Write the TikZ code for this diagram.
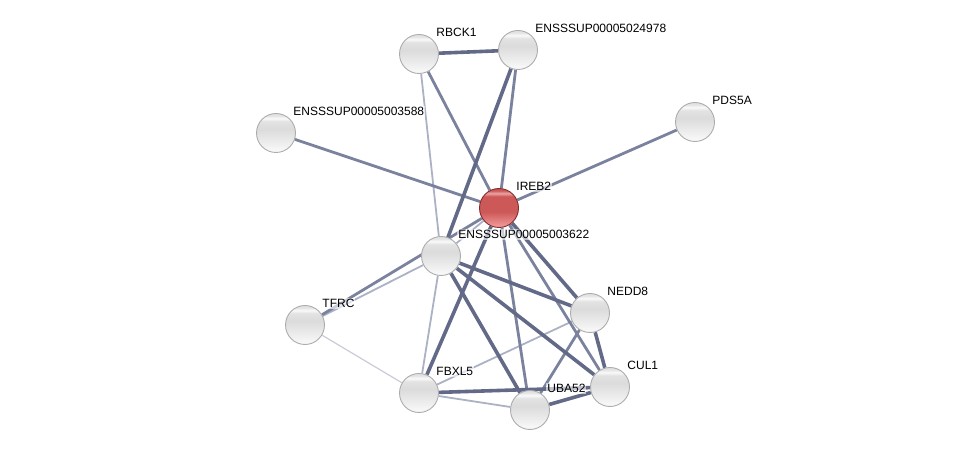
\documentclass[tikz,border=0pt]{standalone}
\usepackage{fontspec}
\setmainfont{Liberation Sans}
\usetikzlibrary{backgrounds}
\definecolor{strongc}{RGB}{98,106,136}
\definecolor{mediumc}{RGB}{122,130,158}
\definecolor{weakc}{RGB}{172,178,198}
\definecolor{faintc}{RGB}{200,204,214}
\definecolor{redlo}{RGB}{242,155,155}
\definecolor{redmid}{RGB}{205,88,88}
\definecolor{redhi}{RGB}{236,170,170}
\definecolor{redtop}{RGB}{165,55,55}
\pgfdeclareverticalshading{greyball}{100bp}{color(0bp)=(gray!4); color(26bp)=(gray!4); color(40bp)=(gray!16); color(55bp)=(gray!28); color(65bp)=(gray!22); color(69bp)=(gray!3); color(72bp)=(gray!22); color(100bp)=(gray!30)}
\pgfdeclareverticalshading{redball}{100bp}{color(0bp)=(redlo); color(26bp)=(redlo); color(45bp)=(redmid); color(65bp)=(redmid); color(69bp)=(redhi); color(72bp)=(redmid); color(100bp)=(redtop)}

\begin{document}
\begin{tikzpicture}[x=1pt, y=-1pt, label distance=3pt,
	main/.style = {circle, draw=gray!65, line width=0.9pt, minimum size=39pt, inner sep=0pt, shading=greyball, label={[lbl]45:#1}},
	query/.style = {main=#1, shading=redball, draw=redtop!80!black},
	lbl/.style = {font=\fontsize{12}{13}\selectfont, inner sep=1pt, fill=white, fill opacity=0.6, text opacity=1},
	strong/.style = {line width=3.6pt, strongc},
	medium/.style = {line width=2.8pt, mediumc},
	weak/.style = {line width=1.8pt, weakc},
	faint/.style = {line width=1.2pt, faintc}]
	\useasboundingbox (0,0) rectangle (975,454);
	\node[main=RBCK1] (rbck1) at (419,54) {};
	\node[main=ENSSSUP00005024978] (e24978) at (518,50) {};
	\node[main=ENSSSUP00005003588] (e3588) at (276,133) {};
	\node[main=PDS5A] (pds5a) at (695,122) {};
	\node[query=IREB2] (ireb2) at (499,208) {};
	\node[main=ENSSSUP00005003622] (e3622) at (441,256) {};
	\node[main=TFRC] (tfrc) at (305,325) {};
	\node[main=NEDD8] (nedd8) at (590,313) {};
	\node[main=CUL1] (cul1) at (610,387) {};
	\node[main=FBXL5] (fbxl5) at (419,393) {};
	\node[main=UBA52] (uba52) at (530,410) {};
	
	\begin{scope}[on background layer]
	\draw[faint] (tfrc) -- (fbxl5);
	\draw[weak] (rbck1) -- (e3622);
	\draw[weak] (e3622) -- (ireb2);
	\draw[weak] (tfrc) -- (e3622);
	\draw[weak] (e3622) -- (fbxl5);
	\draw[weak] (nedd8) -- (fbxl5);
	\draw[weak] (fbxl5) -- (uba52);
	\draw[medium] (rbck1) -- (ireb2);
	\draw[medium] (e24978) -- (ireb2);
	\draw[medium] (e3588) -- (ireb2);
	\draw[medium] (pds5a) -- (ireb2);
	\draw[medium] (tfrc) -- (ireb2);
	\draw[medium] (ireb2) -- (uba52);
	\draw[medium] (ireb2) -- (cul1);
	\draw[medium] (nedd8) -- (uba52);
	\draw[strong] (rbck1) -- (e24978);
	\draw[strong] (e24978) -- (e3622);
	\draw[strong] (ireb2) -- (fbxl5);
	\draw[strong] (ireb2) -- (nedd8);
	\draw[strong] (e3622) -- (nedd8);
	\draw[strong] (e3622) -- (cul1);
	\draw[strong] (e3622) -- (uba52);
	\draw[strong] (nedd8) -- (cul1);
	\draw[strong] (fbxl5) -- (cul1);
	\draw[strong] (uba52) -- (cul1);
	\end{scope}
\end{tikzpicture}
\end{document}
